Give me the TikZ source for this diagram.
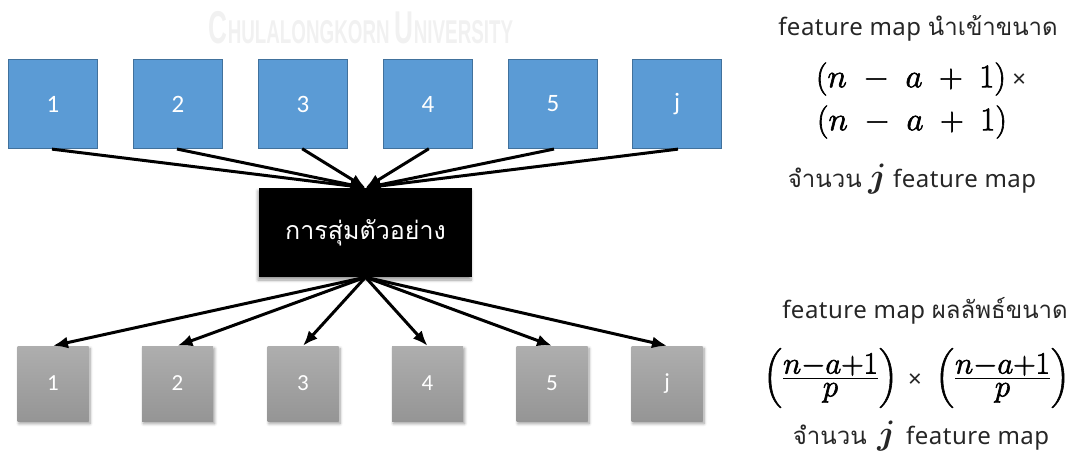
\RequirePackage{fix-cm}
\documentclass[tikz,border=0pt]{standalone}
\usepackage{amsmath}
\usepackage[no-math]{fontspec}
\setmainfont{Noto Sans}[LetterSpace=2]
\newfontfamily\thaifont[Script=Thai]{Loma}
\newfontfamily\boxfont{Carlito}
\newfontfamily\markfont{Liberation Sans}
\usetikzlibrary{arrows.meta,shadows.blur,positioning}

\definecolor{inblue}{HTML}{5B9BD5}
\definecolor{inblueedge}{HTML}{41719C}
\definecolor{outtop}{HTML}{AEAEAE}
\definecolor{outbot}{HTML}{959595}
\definecolor{markgray}{HTML}{F1F1F1}

% glyphs filled and stroked, for a heavier formula face
\newcommand\heavy[1]{\special{pdf:literal direct 2 Tr 0.6 w}#1\special{pdf:literal direct 0 Tr}}
\newcommand\thaiword[1]{{\thaifont\fontsize{24}{28}\selectfont #1}}
\newcommand\bigj{{\fontsize{34}{38}\selectfont\boldmath$j$}}
\newcommand\poolfrac{\Bigl(\frac{\displaystyle n{-}a{+}1}{\displaystyle p}\Bigr)}

\tikzset{
  inmap/.style={draw=inblueedge, line width=1.5pt, fill=inblue,
    minimum width=89pt, minimum height=89pt, inner sep=0pt,
    text=white, font=\boxfont\fontsize{25}{25}\selectfont},
  outmap/.style={top color=outtop, bottom color=outbot, draw=none,
    minimum width=71pt, minimum height=75pt, inner sep=0pt,
    text=white, font=\boxfont\fontsize{23}{23}\selectfont,
    blur shadow={shadow xshift=1.5pt, shadow yshift=-2.5pt, shadow blur steps=6, shadow blur radius=3pt}},
  poolbox/.style={fill=black, draw=none, minimum width=213pt, minimum height=89pt,
    inner sep=0pt, text=white, font=\thaifont\fontsize{25}{25}\selectfont,
    blur shadow={shadow xshift=-1pt, shadow yshift=-3pt, shadow blur steps=6, shadow blur radius=3pt}},
  link/.style={line width=3pt, -{Latex[length=15pt,width=12pt]}},
  sidetext/.style={font=\fontsize{24}{28}\selectfont, text=black!85, inner sep=0pt},
  sidemath/.style={font=\fontsize{33}{36}\selectfont, text=black, inner sep=0pt}
}

\begin{document}
\begin{tikzpicture}[x=1pt,y=-1pt]
\useasboundingbox (0,0) rectangle (1085,455);

% faint university mark behind the top row
\node[text=markgray, inner sep=0pt, xscale=0.57, font=\markfont\bfseries] (mark) at (361,28)
  {\fontsize{46}{46}\selectfont C\fontsize{33}{33}\selectfont HULALONGKORN
   \fontsize{46}{46}\selectfont U\fontsize{33}{33}\selectfont NIVERSITY};

% input feature maps
\node[inmap] (i1) at (53,104)  {1};
\node[inmap] (i2) at (178,104) {2};
\node[inmap] (i3) at (303,104) {3};
\node[inmap] (i4) at (428,104) {4};
\node[inmap] (i5) at (553,104) {5};
\node[inmap] (ij) at (677,104) {j};

% pooling step
\node[poolbox] (pool) at (365.5,232.5) {การสุ่มตัวอย่าง};

% output feature maps
\node[outmap] (o1) at (53,383.5)    {1};
\node[outmap] (o2) at (177.5,383.5) {2};
\node[outmap] (o3) at (303,383.5)   {3};
\node[outmap] (o4) at (427.5,383.5) {4};
\node[outmap] (o5) at (552,383.5)   {5};
\node[outmap] (oj) at (667,383.5)   {j};

% connectors
\foreach \n in {i1,i2,i3,i4,i5,ij}
  \draw[link, shorten <=-1pt] (\n.south) -- (pool.north);
\foreach \n in {o1,o2,o3,o4,o5,oj}
  \draw[link] (pool.south) -- (\n.north);

% input size description
\node[sidetext] (t1) at (918,28) {feature map \thaiword{นำเข้าขนาด}};
\node[sidemath] (m1) at (911,79) {\heavy{$\medmuskip=9mu (n - a + 1)$}};
\node[sidetext, anchor=west] (x1) at ([xshift=6pt,yshift=-2pt]m1.east) {×};
\node[sidemath] (m2) at (912,122) {\heavy{$\medmuskip=9mu (n - a + 1)$}};
\node[sidetext] (c1) at (912,179) {\thaiword{จำนวน} \bigj{} feature map};

% output size description
\node[sidetext] (t2) at (925,311) {feature map \thaiword{ผลลัพธ์ขนาด}};
\node[sidemath, font=\fontsize{31}{36}\selectfont] (f1) at (830.5,378) {\heavy{$\poolfrac$}};
\node[sidetext] (x2) at (915,381) {×};
\node[sidemath, font=\fontsize{31}{36}\selectfont] (f2) at (1002.5,378) {\heavy{$\poolfrac$}};
\node[sidetext] (c2) at (921,436) {\thaiword{จำนวน}\, \bigj{}\, feature map};
\end{tikzpicture}
\end{document}
